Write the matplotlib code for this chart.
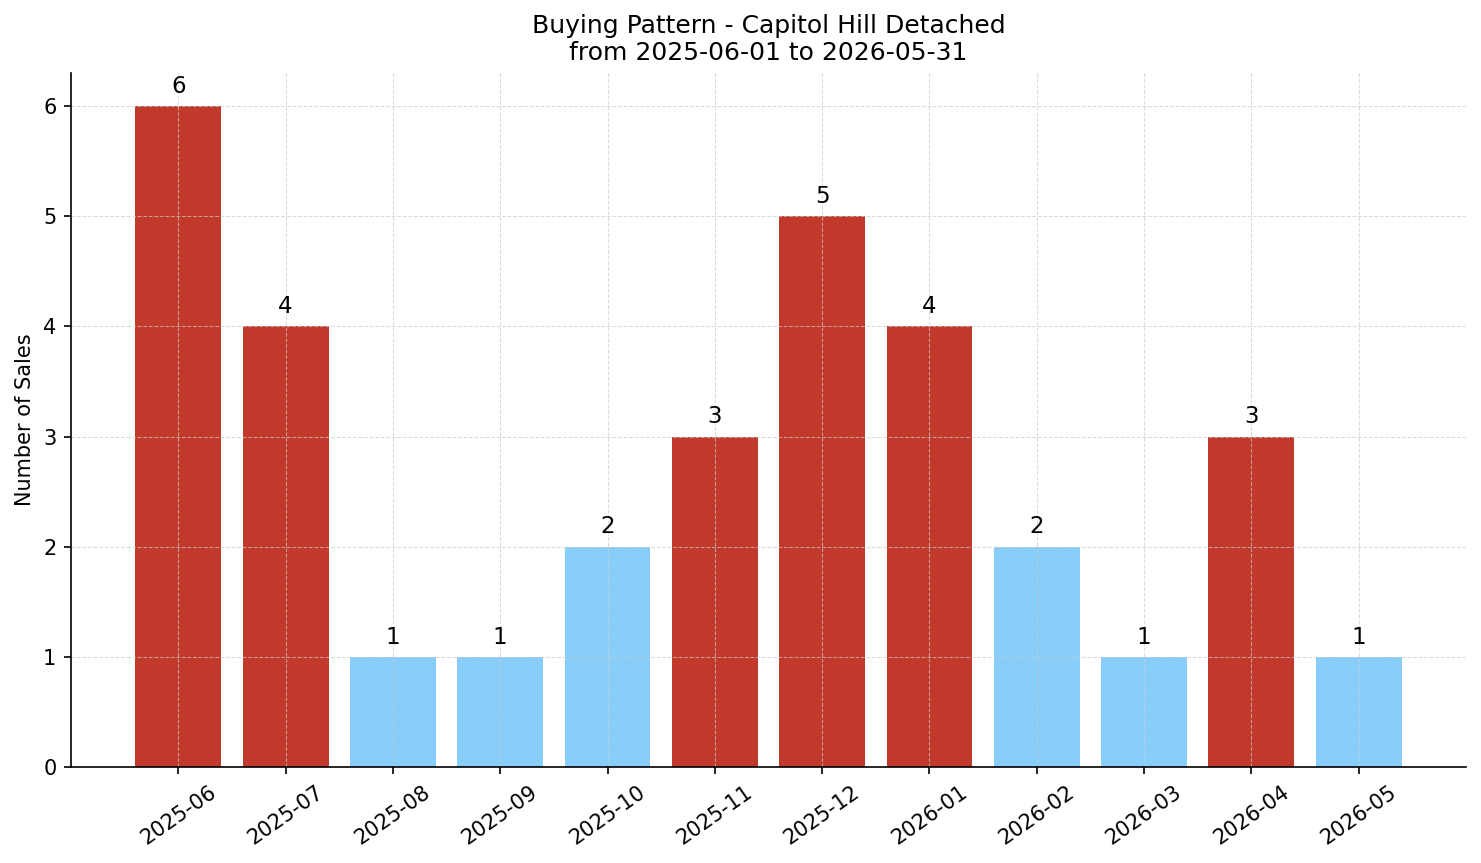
import matplotlib
matplotlib.use("Agg")
import matplotlib.pyplot as plt

months = ["2025-06", "2025-07", "2025-08", "2025-09", "2025-10", "2025-11",
          "2025-12", "2026-01", "2026-02", "2026-03", "2026-04", "2026-05"]
sales = [6, 4, 1, 1, 2, 3, 5, 4, 2, 1, 3, 1]
threshold = 3

colors = ["#c0392b" if s >= threshold else "#87cefa" for s in sales]

fig, ax = plt.subplots(figsize=(1481 / 150, 863 / 150), dpi=150)
fig.subplots_adjust(left=71 / 1481, right=1466 / 1481, top=1 - 73 / 863, bottom=1 - 767 / 863)

x = list(range(len(months)))
bars = ax.bar(x, sales, width=0.8, color=colors)
for b, s in zip(bars, sales):
    ax.annotate(str(s), (b.get_x() + b.get_width() / 2, s), xytext=(0, 4),
                textcoords="offset points", ha="center", va="bottom", fontsize=11)

ax.set_xticks(x)
ax.set_xticklabels(months, rotation=35)
ax.set_xlim(-1, 12)
ax.set_ylim(0, 6.3)
ax.set_ylabel("Number of Sales")
ax.set_title("Buying Pattern - Capitol Hill Detached\nfrom 2025-06-01 to 2026-05-31", fontsize=12)
ax.grid(True, linestyle="--", linewidth=0.5, color="#cccccc", alpha=0.7)
ax.spines["top"].set_visible(False)
ax.spines["right"].set_visible(False)

fig.savefig("out.png", dpi=150)
